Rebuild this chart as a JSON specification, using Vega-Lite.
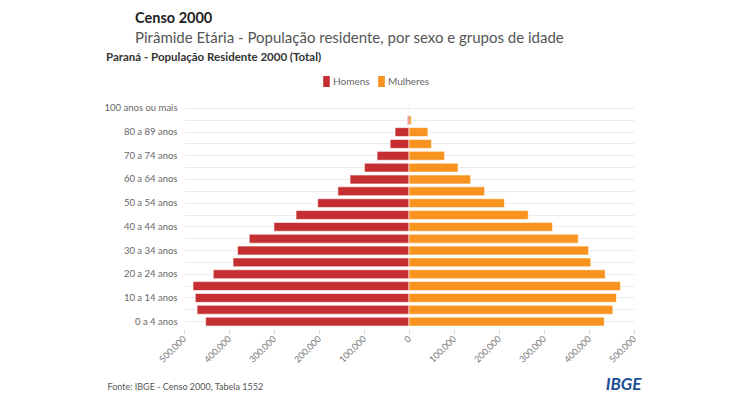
{
  "$schema": "https://vega.github.io/schema/vega-lite/v6.json",
  "background": "white",
  "padding": {"left": 104, "right": 5, "top": 11, "bottom": 2},
  "config": {"font": "Lato", "view": {"stroke": null}},
  "title": {
    "text": "Censo 2000",
    "subtitle": "Pirâmide Etária - População residente, por sexo e grupos de idade",
    "anchor": "start",
    "frame": "bounds",
    "dx": 31,
    "fontSize": 14.5,
    "fontWeight": "bold",
    "color": "#222222",
    "subtitleFont": "Lato",
    "subtitleFontSize": 15,
    "subtitleColor": "#555555",
    "subtitlePadding": 4,
    "offset": 5
  },
  "vconcat": [
    {
      "width": 450,
      "height": 228,
      "title": {
        "text": "Paraná - População Residente 2000 (Total)",
        "anchor": "start",
        "frame": "bounds",
        "dx": 2,
        "fontSize": 11.5,
        "fontWeight": "bold",
        "color": "#333333",
        "offset": 38
      },
      "data": {
        "values": [
          {"idade": "0 a 4 anos", "sexo": "Homens", "pop": -452000},
          {"idade": "0 a 4 anos", "sexo": "Mulheres", "pop": 434000},
          {"idade": "5 a 9 anos", "sexo": "Homens", "pop": -471000},
          {"idade": "5 a 9 anos", "sexo": "Mulheres", "pop": 453000},
          {"idade": "10 a 14 anos", "sexo": "Homens", "pop": -475000},
          {"idade": "10 a 14 anos", "sexo": "Mulheres", "pop": 461000},
          {"idade": "15 a 19 anos", "sexo": "Homens", "pop": -480000},
          {"idade": "15 a 19 anos", "sexo": "Mulheres", "pop": 470000},
          {"idade": "20 a 24 anos", "sexo": "Homens", "pop": -435000},
          {"idade": "20 a 24 anos", "sexo": "Mulheres", "pop": 436000},
          {"idade": "25 a 29 anos", "sexo": "Homens", "pop": -391000},
          {"idade": "25 a 29 anos", "sexo": "Mulheres", "pop": 404000},
          {"idade": "30 a 34 anos", "sexo": "Homens", "pop": -381000},
          {"idade": "30 a 34 anos", "sexo": "Mulheres", "pop": 399000},
          {"idade": "35 a 39 anos", "sexo": "Homens", "pop": -355000},
          {"idade": "35 a 39 anos", "sexo": "Mulheres", "pop": 376000},
          {"idade": "40 a 44 anos", "sexo": "Homens", "pop": -300000},
          {"idade": "40 a 44 anos", "sexo": "Mulheres", "pop": 319000},
          {"idade": "45 a 49 anos", "sexo": "Homens", "pop": -251000},
          {"idade": "45 a 49 anos", "sexo": "Mulheres", "pop": 265000},
          {"idade": "50 a 54 anos", "sexo": "Homens", "pop": -203000},
          {"idade": "50 a 54 anos", "sexo": "Mulheres", "pop": 212000},
          {"idade": "55 a 59 anos", "sexo": "Homens", "pop": -158000},
          {"idade": "55 a 59 anos", "sexo": "Mulheres", "pop": 168000},
          {"idade": "60 a 64 anos", "sexo": "Homens", "pop": -131000},
          {"idade": "60 a 64 anos", "sexo": "Mulheres", "pop": 137000},
          {"idade": "65 a 69 anos", "sexo": "Homens", "pop": -99000},
          {"idade": "65 a 69 anos", "sexo": "Mulheres", "pop": 109000},
          {"idade": "70 a 74 anos", "sexo": "Homens", "pop": -71000},
          {"idade": "70 a 74 anos", "sexo": "Mulheres", "pop": 79000},
          {"idade": "75 a 79 anos", "sexo": "Homens", "pop": -42000},
          {"idade": "75 a 79 anos", "sexo": "Mulheres", "pop": 50000},
          {"idade": "80 a 89 anos", "sexo": "Homens", "pop": -31000},
          {"idade": "80 a 89 anos", "sexo": "Mulheres", "pop": 42000},
          {"idade": "90 a 99 anos", "sexo": "Homens", "pop": -3500},
          {"idade": "90 a 99 anos", "sexo": "Mulheres", "pop": 5000},
          {"idade": "100 anos ou mais", "sexo": "Homens", "pop": -300},
          {"idade": "100 anos ou mais", "sexo": "Mulheres", "pop": 500}
        ]
      },
      "mark": {"type": "bar", "stroke": "white", "strokeWidth": 0.6},
      "encoding": {
        "y": {
          "field": "idade",
          "type": "nominal",
          "sort": ["100 anos ou mais", "90 a 99 anos", "80 a 89 anos", "75 a 79 anos", "70 a 74 anos", "65 a 69 anos", "60 a 64 anos", "55 a 59 anos", "50 a 54 anos", "45 a 49 anos", "40 a 44 anos", "35 a 39 anos", "30 a 34 anos", "25 a 29 anos", "20 a 24 anos", "15 a 19 anos", "10 a 14 anos", "5 a 9 anos", "0 a 4 anos"],
          "scale": {"paddingInner": 0.25, "paddingOuter": 0.25},
          "axis": {
            "title": "IBGE",
            "titleAngle": 0,
            "titleX": 457,
            "titleY": 283,
            "titleAlign": "right",
            "titleBaseline": "middle",
            "titleFontSize": 17,
            "titleFontWeight": "bold",
            "titleFontStyle": "italic",
            "titleColor": "#1f4e96",
            "labelExpr": "indexof(['100 anos ou mais','80 a 89 anos','70 a 74 anos','60 a 64 anos','50 a 54 anos','40 a 44 anos','30 a 34 anos','20 a 24 anos','10 a 14 anos','0 a 4 anos'], datum.value) >= 0 ? datum.value : ''",
            "labelFontSize": 9.5,
            "labelColor": "#666666",
            "labelPadding": 7,
            "ticks": false,
            "domain": false,
            "grid": true,
            "gridColor": "#ebebeb",
            "bandPosition": 0.5
          }
        },
        "x": {
          "field": "pop",
          "type": "quantitative",
          "scale": {"domain": [-500000, 500000], "nice": false},
          "axis": {
            "values": [-500000, -400000, -300000, -200000, -100000, 0, 100000, 200000, 300000, 400000, 500000],
            "labelExpr": "format(abs(datum.value), ',')",
            "labelAngle": -45,
            "labelAlign": "right",
            "labelBaseline": "middle",
            "labelFontSize": 9,
            "labelColor": "#777777",
            "labelPadding": 3,
            "grid": false,
            "domain": false,
            "ticks": true,
            "tickColor": "#dddddd",
            "tickSize": 5,
            "title": "Fonte: IBGE - Censo 2000, Tabela 1552",
            "titleX": -77,
            "titleY": 57,
            "titleAlign": "left",
            "titleBaseline": "middle",
            "titleFontSize": 9,
            "titleFontWeight": "normal",
            "titleColor": "#555555"
          }
        },
        "color": {
          "field": "sexo",
          "type": "nominal",
          "scale": {"domain": ["Homens", "Mulheres"], "range": ["#c62f31", "#f7931e"]},
          "legend": {
            "title": null,
            "orient": "none",
            "direction": "horizontal",
            "legendX": 137,
            "legendY": -25,
            "labelFontSize": 10,
            "labelColor": "#666666",
            "symbolType": "M-0.6,-1H0.6V1H-0.6Z",
            "symbolSize": 121,
            "symbolStrokeWidth": 0,
            "labelOffset": 1,
            "columnPadding": 6
          }
        }
      }
    }
  ]
}
